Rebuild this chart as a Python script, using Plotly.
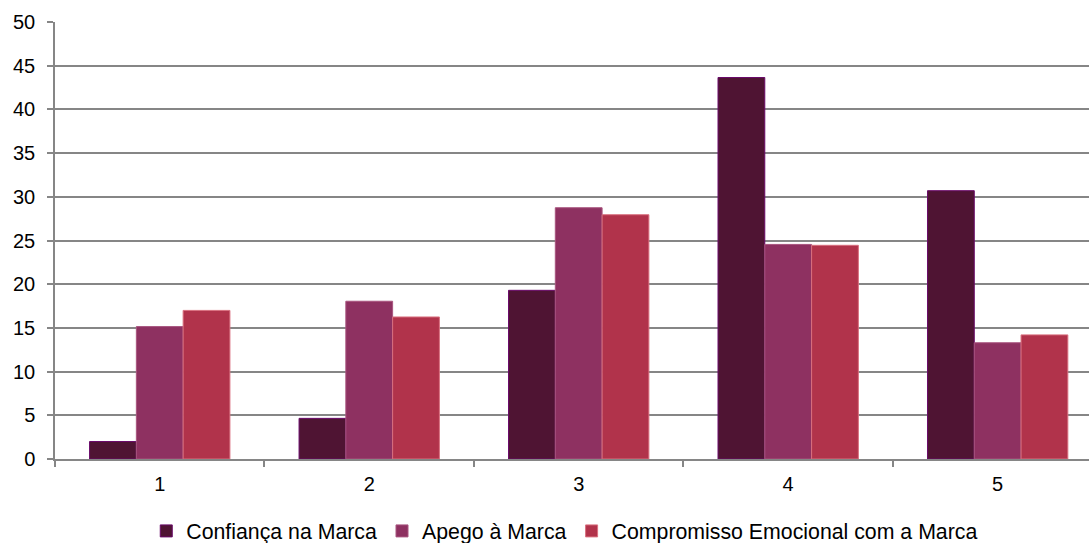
import plotly.graph_objects as go

categories = ["1", "2", "3", "4", "5"]
confianca = [2.0, 4.65, 19.3, 43.65, 30.7]
apego = [15.15, 18.05, 28.75, 24.55, 13.3]
compromisso = [17.0, 16.25, 27.95, 24.45, 14.2]
y_ticks = list(range(0, 51, 5))

series = [
    ("Confiança na Marca", confianca, "#4F1433", "#6A0A6A"),
    ("Apego à Marca", apego, "#8E3161", "#A8557F"),
    ("Compromisso Emocional com a Marca", compromisso, "#B1334B", "#D9707F"),
]

fig = go.Figure()
for name, vals, color, edge in series:
    fig.add_trace(go.Bar(
        x=categories, y=vals, name=name,
        marker=dict(color=color, line=dict(color=edge, width=1)),
    ))

fig.update_layout(
    width=1089, height=543,
    margin=dict(l=55, r=0, t=22, b=84, autoexpand=False),
    paper_bgcolor="white", plot_bgcolor="white",
    barmode="group", bargap=0.33, bargroupgap=0,
    font=dict(family="Liberation Sans, Arial, sans-serif", size=20, color="black"),
    showlegend=True,
    legend=dict(orientation="h", x=0.493, xanchor="center",
                yref="container", y=0.022, yanchor="middle",
                font=dict(size=21.3), itemwidth=30, traceorder="normal"),
    xaxis=dict(
        type="category", range=[-0.5, 4.436], automargin=False,
        showline=True, linecolor="#868686", linewidth=1.5,
        ticks="outside", tickson="boundaries", ticklen=6, tickcolor="#868686", tickwidth=1.5,
        showgrid=False, tickfont=dict(size=20), ticklabelstandoff=6,
    ),
    yaxis=dict(
        range=[0, 50], tickvals=y_ticks, automargin=False,
        showline=True, linecolor="#868686", linewidth=1.5,
        ticks="outside", ticklen=6, tickcolor="#868686", tickwidth=1.5,
        showgrid=True, gridcolor="#868686", gridwidth=1.5,
        zeroline=False, tickfont=dict(size=20), ticklabelstandoff=8,
    ),
)

fig.write_html("out.html")
